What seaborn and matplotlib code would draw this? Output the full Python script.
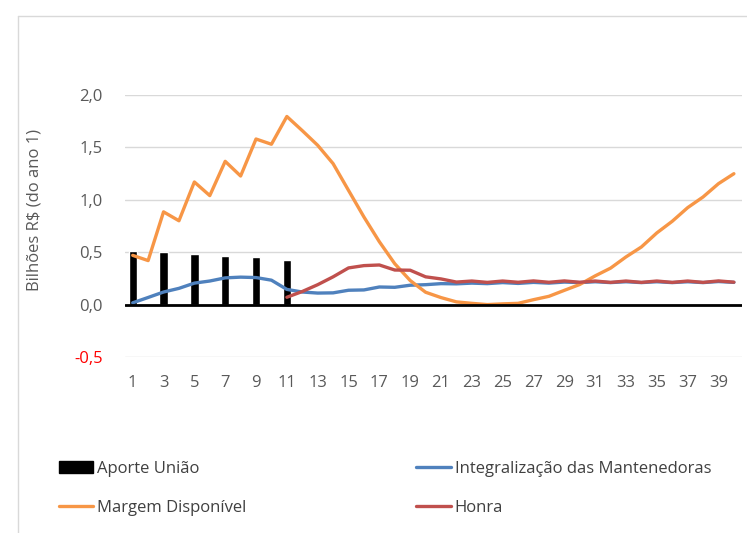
import numpy as np
import pandas as pd
import seaborn as sns
import matplotlib
matplotlib.use("Agg")
import matplotlib.pyplot as plt
from matplotlib.lines import Line2D
from matplotlib.patches import Patch

# ---- data ----
anos = list(range(1, 41))
aporte_anos = [1, 3, 5, 7, 9, 11]
aporte_uniao = [0.51, 0.50, 0.485, 0.465, 0.45, 0.43]
integralizacao = [0.017, 0.068, 0.12, 0.155, 0.205, 0.225, 0.255, 0.262, 0.258, 0.233,
                  0.145, 0.12, 0.11, 0.112, 0.137, 0.14, 0.168, 0.165, 0.185, 0.19,
                  0.2, 0.198, 0.205, 0.2, 0.21, 0.202, 0.212, 0.205, 0.215, 0.21,
                  0.218, 0.21, 0.218, 0.21, 0.218, 0.21, 0.218, 0.21, 0.22, 0.212]
margem = [0.47, 0.42, 0.885, 0.80, 1.17, 1.04, 1.367, 1.227, 1.58, 1.53,
          1.795, 1.66, 1.52, 1.345, 1.09, 0.836, 0.60, 0.39, 0.23, 0.118,
          0.067, 0.026, 0.012, 0.0, 0.007, 0.012, 0.047, 0.079, 0.136, 0.192,
          0.274, 0.348, 0.455, 0.55, 0.684, 0.795, 0.925, 1.027, 1.154, 1.249]
honra_anos = list(range(11, 41))
honra = [0.07, 0.125, 0.19, 0.265, 0.35, 0.372, 0.378, 0.33, 0.328, 0.265,
         0.245, 0.215, 0.225, 0.212, 0.225, 0.213, 0.226, 0.213, 0.226, 0.213,
         0.225, 0.212, 0.225, 0.212, 0.225, 0.212, 0.225, 0.212, 0.226, 0.214]
y_ticks = [-0.5, 0.0, 0.5, 1.0, 1.5, 2.0]
x_ticks = list(range(1, 40, 2))

labels = ["Aporte União", "Integralização das Mantenedoras", "Margem Disponível", "Honra"]
c_bar = "#000000"
c_blue = "#4F81BD"
c_orange = "#F79646"
c_red = "#C0504D"

sns.set_theme(style="white")
plt.rcParams["font.family"] = ["Open Sans", "DejaVu Sans"]
FS = 12

fig = plt.figure(figsize=(7.47, 5.33), dpi=100)
ax = fig.add_axes([125 / 747, (533 - 357) / 533, (741.6 - 125) / 747, (357 - 95) / 533])

df_bar = pd.DataFrame({"ano": aporte_anos, "valor": aporte_uniao})
sns.barplot(data=df_bar, x="ano", y="valor", native_scale=True, color=c_bar,
            saturation=1, width=0.27, ax=ax, zorder=2)

lw = 2.4
sns.lineplot(x=anos, y=integralizacao, color=c_blue, lw=lw, ax=ax, zorder=3)
sns.lineplot(x=anos, y=margem, color=c_orange, lw=lw, ax=ax, zorder=4)
sns.lineplot(x=honra_anos, y=honra, color=c_red, lw=lw, ax=ax, zorder=5)

ax.axhline(0, color="black", lw=2.0, zorder=6)

ax.set_xlim(0.5, 40.5)
ax.set_ylim(-0.5, 2.0)
ax.set_yticks(y_ticks)
ax.set_yticklabels([f"{v:.1f}".replace(".", ",") for v in y_ticks])
ax.set_xticks(x_ticks)
ax.set_xticklabels([str(v) for v in x_ticks])
for t in ax.get_yticklabels():
    t.set_color("#595959")
ax.get_yticklabels()[0].set_color("#FF0000")
for t in ax.get_xticklabels():
    t.set_color("#595959")
ax.tick_params(axis="y", length=0, pad=16, labelsize=FS)
ax.tick_params(axis="x", length=0, pad=13, labelsize=FS)

ax.grid(axis="y", color="#D9D9D9", lw=1.0, zorder=0)
ax.grid(axis="x", visible=False)
for s in ax.spines.values():
    s.set_visible(False)

ax.set_xlabel("")
ax.set_ylabel("Bilhões R$ (do ano 1)", color="#595959", fontsize=FS)
ax.yaxis.set_label_coords((42.5 - 125) / (741.6 - 125), (357 - 210) / (357 - 95))

handles = [Patch(facecolor=c_bar, edgecolor=c_bar),
           Line2D([], [], color=c_orange, lw=2.4),
           Line2D([], [], color=c_blue, lw=2.4),
           Line2D([], [], color=c_red, lw=2.4)]
leg_labels = [labels[0], labels[2], labels[1], labels[3]]
leg = fig.legend(handles, leg_labels, ncol=2, loc="upper left",
                 bbox_to_anchor=(52 / 747, (533 - 454) / 533), frameon=False,
                 fontsize=FS, handlelength=2.05, handletextpad=0.25,
                 columnspacing=10.2, labelspacing=1.38, borderaxespad=0)
for t in leg.get_texts():
    t.set_color("#404040")

# chart border (light frame)
fig.add_artist(Line2D([18 / 747, 18 / 747], [0, (533 - 16) / 533],
                      transform=fig.transFigure, color="#D9D9D9", lw=1))
fig.add_artist(Line2D([18 / 747, 1], [(533 - 16) / 533, (533 - 16) / 533],
                      transform=fig.transFigure, color="#D9D9D9", lw=1))

fig.savefig("out.png", dpi=100, facecolor="white")
